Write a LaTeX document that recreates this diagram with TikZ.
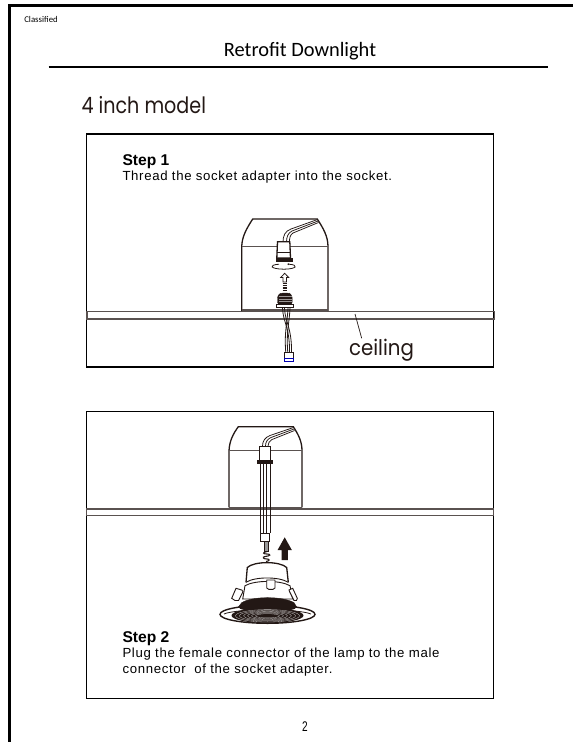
\documentclass[tikz,border=0pt]{standalone}
\usepackage{fontspec}
\usepackage{graphicx}
\usetikzlibrary{arrows.meta}
\setmainfont{Liberation Sans}
\newfontfamily\titlef{Carlito}
\newfontfamily\geof{Poppins}
\newfontfamily\bodyf[LetterSpace=5]{Liberation Sans}
\definecolor{ink}{HTML}{231815}
\definecolor{strip}{HTML}{5A5250}
\tikzset{
  frameln/.style={line width=2.6pt,black},
  boxln/.style={line width=1.2pt,black},
  stripln/.style={line width=1.2pt,strip},
  domeln/.style={line width=1.3pt,ink},
  thin ink/.style={line width=.75pt,ink},
  txt/.style={anchor=base west,inner sep=0pt,outer sep=0pt},
  solidink/.style={fill=ink,draw=ink,line width=.4pt}
}
\begin{document}
\begin{tikzpicture}[x=1pt,y=-1pt]
\useasboundingbox (0,0) rectangle (573,742);
\fill[white] (0,0) rectangle (573,742);
% page frame and rule
\draw[frameln] (9.5,742) -- (9.5,5.3) -- (573,5.3);
\draw[line width=2pt,black] (48.7,67.4) -- (547.7,67.4);
% texts
\node[txt] (classified) at (24.3,22.6) {\titlef\fontsize{8.8}{10}\selectfont Classified};
\node[anchor=base,inner sep=0pt] (title) at (300,56.2) {\titlef\fontsize{20.4}{24}\selectfont Retrofit Downlight};
\node[txt,text=ink] (model) at (81.5,113.5) {\geof\fontsize{22.5}{26}\selectfont\scalebox{.85}[1]{4 inch model}};
% boxes
\draw[boxln] (86.8,134) rectangle (493.3,367);
\draw[boxln] (86.3,411.3) rectangle (493.3,698.8);
\node[txt] (s1) at (122.5,165.7) {\fontsize{15.6}{18}\selectfont\bfseries Step 1};
\node[txt] (t1) at (122.5,180.7) {\bodyf\fontsize{13.2}{15}\selectfont Thread the socket adapter into the socket.};
\node[txt] (s2) at (122.5,642.5) {\fontsize{15.6}{18}\selectfont\bfseries Step 2};
\node[txt] (t2) at (122.5,657.7) {\bodyf\fontsize{13.2}{15}\selectfont Plug the female connector of the lamp to the male};
\node[txt] (t3) at (122.5,673.7) {\bodyf\fontsize{13.2}{15}\selectfont connector\ \ of the socket adapter.};
\node[anchor=base,inner sep=0pt] (pg) at (305,731) {\fontsize{14}{16}\selectfont\scalebox{.72}[1]{2}};
% ---- Step 1 drawing
\draw[stripln] (87,311.2) rectangle (494.2,319);
\fill[white] (242,219) rectangle (328,310);
\draw[domeln] (241.7,311) -- (241.7,246.7) .. controls (242,236) and (247,228) .. (252.7,219) -- (317.3,219) .. controls (323,228) and (328,236) .. (328,246.7) -- (328,311);
\draw[line width=1pt,strip] (241.7,246.7) -- (328,246.7);
\draw[line width=1.6pt,strip] (241.7,310.2) -- (328,310.2);
% upper socket and wires
\draw[thin ink] (317.5,219.5) -- (291,229) .. controls (285,231) and (283,236) .. (283,242);
\draw[thin ink] (318,221) -- (292,231) .. controls (288,233) and (286.5,237) .. (286.5,242);
\draw[thin ink] (318.5,222.5) -- (293,233) .. controls (290,235) and (289.5,238) .. (289.5,242);
\draw[domeln,fill=white] (277.5,241.7) -- (289.8,241.7) -- (290.5,258) -- (276.8,258) -- cycle;
\draw[thin ink] (277,252) -- (290.3,252);
\draw[solidink] (275.7,258.3) rectangle (292.2,261.6);
% rotation arrow
\draw[line width=.8pt,ink] (279,264.2) .. controls (268,265) and (270,269) .. (284,269.2) .. controls (297,269) and (299,265) .. (289,264.2);
\draw[line width=.7pt,ink,-{Latex[length=2pt,width=2pt]}] (289,264.2) -- (287,264);
% hollow up arrow
\draw[line width=.8pt,ink,fill=white] (284.7,273.3) -- (288.7,277.5) -- (286.5,277.5) -- (286.5,282) -- (283,282) -- (283,277.5) -- (280.7,277.5) -- cycle;
\foreach \yy in {283.5,285.2,286.9,288.6,290.3} \draw[line width=.8pt,ink] (282.5,\yy) -- (287,\yy);
% adapter
\draw[solidink,rounded corners=2.5pt] (277.5,304.5) -- (277.5,295.5) -- (281,293) -- (289,293) -- (292.2,295.5) -- (292.2,304.5) -- cycle;
\foreach \yy in {296.5,299,301.5} \draw[line width=.2pt,white!55!ink] (278.5,\yy) -- (291.5,\yy);
\draw[line width=1pt,ink,fill=white] (276.2,304.8) rectangle (293.5,307.6);
% twisted wires
\draw[line width=.8pt,ink] (282.5,308) .. controls (283,322) and (290,328) .. (289.5,352.8);
\draw[line width=.8pt,ink] (284.5,308) .. controls (285,322) and (292,328) .. (291.5,352.8);
\draw[line width=.8pt,ink] (288,308) .. controls (287.5,322) and (284,332) .. (285.8,352.8);
\draw[line width=.8pt,ink] (290,308) .. controls (289.5,322) and (286,332) .. (287.8,352.8);
\draw[line width=.8pt,ink,fill=white] (284.8,352.8) rectangle (293.6,358.4);
\draw[line width=.8pt,blue!70!black,fill=white] (284.8,358.4) rectangle (293.6,361);
% leader and label
\node[txt,text=ink] (ceil) at (349,355) {\geof\fontsize{21.5}{25}\selectfont\scalebox{.92}[1]{ceiling}};
\coordinate (ldA) at (355,314);
\draw[line width=.7pt,ink] (ldA) -- (361.7,338.3);
% ---- Step 2 drawing
\draw[stripln] (86.5,509) rectangle (493.3,515.5);
\draw[domeln] (229,507.3) -- (229,450.7) .. controls (229.5,441) and (233,434) .. (238.3,426.7) -- (293.3,426.7) .. controls (298,434) and (302,441) .. (302,450.7) -- (302,507.3);
\draw[line width=1pt,strip] (229,450.7) -- (302,450.7);
\draw[line width=1.3pt,strip] (229,507.5) -- (302,507.5);
\draw[thin ink] (293.5,427.5) -- (270,435.5) .. controls (265,437.5) and (262.5,441) .. (262.5,446);
\draw[thin ink] (294,429) -- (271,437.5) .. controls (267.5,439) and (265.5,442) .. (265.5,446);
\draw[thin ink] (294.5,430.5) -- (272,439.5) .. controls (269.5,441) and (268,443) .. (268,446);
\draw[line width=.9pt,ink,fill=white] (259.4,446) rectangle (270.6,460);
\draw[solidink] (257.4,460) rectangle (272,462.7);
\foreach \xx in {260.6,263.8,266.6,270.3} \draw[line width=.75pt,ink] (\xx,462.7) -- (\xx,533.3);
\draw[line width=.8pt,ink,fill=white] (260.6,533.3) rectangle (269.4,541.7);
\draw[line width=.8pt,ink,fill=black!40] (264,541.7) rectangle (268,551.5);
\draw[line width=1.1pt,ink] (267,551.5) .. controls (262,552.5) and (263,554) .. (267,554) .. controls (271,554) and (271,556) .. (265,556.5) .. controls (262,557) and (263,559) .. (267,559) .. controls (270,559) and (270,561) .. (266,561.5);
% up arrow
\fill[ink] (284.7,537.3) -- (291.8,550) -- (287.8,550) -- (287.8,560) -- (281.7,560) -- (281.7,550) -- (277.6,550) -- cycle;
% lamp body
\draw[domeln,fill=white] (246,582.3) -- (247.3,567.5) .. controls (254,561) and (280,561) .. (286.7,567.5) -- (288.3,582.3);
\draw[line width=.9pt,ink,fill=white] (242.7,599) -- (245,585.7) .. controls (255,580) and (280,580) .. (290,585.7) -- (292.7,599) -- cycle;
\draw[line width=.9pt,ink] (246,582.3) .. controls (255,576.5) and (279,576.5) .. (288.3,582.3);
\draw[line width=.9pt,ink,fill=white] (266.7,580) -- (266.7,588) -- (268.7,589.3) -- (273,589.3) -- (275,588) -- (275,580) -- cycle;
% clips
\draw[line width=.9pt,ink,fill=white] (231.7,598.3) -- (236,588.3) -- (241.7,590) -- (243,591.5) -- (238.5,600.5) -- (235,600.5) -- cycle;
\draw[line width=.9pt,ink,fill=white] (297.3,598.3) -- (292.7,588.3) -- (289,590) -- (289.5,591.5) -- (294,600.5) -- (296.5,600.5) -- cycle;
% flange
\draw[line width=1.4pt,ink,fill=white] (267.5,614.3) ellipse [x radius=47.5,y radius=9];
\draw[line width=.8pt,ink] (224,614) .. controls (236,608.5) and (298,608.5) .. (311,614);
% trim
\draw[solidink] (241.7,602.7) .. controls (252,596) and (283,596) .. (294,602.7) -- (297,607.5) .. controls (280,604.5) and (255,604.5) .. (238,607.5) -- cycle;
\fill[ink] (267.5,608) ellipse [x radius=28,y radius=3.5];
\fill[ink] (267.5,615.5) ellipse [x radius=36,y radius=7.6];
\foreach \rr/\vv in {32/6.2,28/5.3,24/4.5,20/3.7,16/2.9,12/2.1}
  \draw[line width=.3pt,white!75!ink] (267.5,615.8) ellipse [x radius=\rr,y radius=\vv];
\end{tikzpicture}
\end{document}
